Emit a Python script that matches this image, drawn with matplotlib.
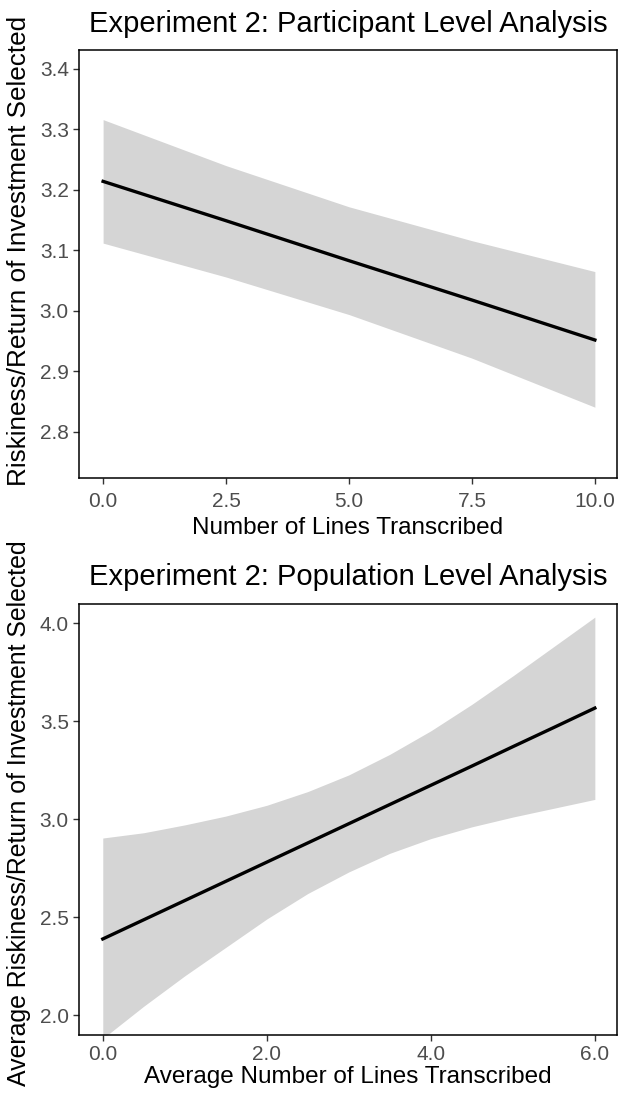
import numpy as np
import matplotlib.pyplot as plt

plt.rcParams['font.family'] = ['Liberation Sans', 'DejaVu Sans']

# participant level (top panel)
p_x = [0.0, 2.5, 5.0, 7.5, 10.0]
p_fit = [3.214, 3.149, 3.083, 3.018, 2.952]
p_upper = [3.316, 3.240, 3.172, 3.116, 3.065]
p_lower = [3.112, 3.056, 2.994, 2.922, 2.841]

# population level (bottom panel)
q_x = [0, 0.5, 1, 1.5, 2, 2.5, 3, 3.5, 4, 4.5, 5, 5.5, 6]
q_fit = [2.388, 2.486, 2.584, 2.682, 2.780, 2.878, 2.976, 3.074,
         3.172, 3.270, 3.369, 3.467, 3.566]
q_upper = [2.903, 2.930, 2.970, 3.015, 3.070, 3.140, 3.225, 3.330,
           3.450, 3.585, 3.730, 3.880, 4.030]
q_lower = [1.880, 2.045, 2.200, 2.345, 2.490, 2.620, 2.730, 2.825,
           2.900, 2.960, 3.010, 3.055, 3.100]

fig = plt.figure(figsize=(6.18, 10.94), dpi=100)
ax1 = fig.add_axes([79/618, 1-478/1094, 538/618, 428/1094])
ax2 = fig.add_axes([79/618, 1-1035/1094, 538/618, 431/1094])

band = '#d5d5d5'


def style(ax):
    for s in ax.spines.values():
        s.set_linewidth(1.1)
        s.set_color('black')
    ax.tick_params(axis='both', length=4.3, width=1.0, color='#333333',
                   labelcolor='#4d4d4d', labelsize=15, pad=3)


ax1.fill_between(p_x, p_lower, p_upper, color=band, lw=0)
ax1.plot(p_x, p_fit, color='black', lw=2.4)
ax1.set_xlim(-0.49, 10.45)
ax1.set_ylim(2.724, 3.431)
ax1.set_xticks([0, 2.5, 5, 7.5, 10])
ax1.set_xticklabels(['0.0', '2.5', '5.0', '7.5', '10.0'])
ax1.set_yticks([2.8, 2.9, 3.0, 3.1, 3.2, 3.3, 3.4])
ax1.set_title('Experiment 2: Participant Level Analysis', fontsize=21, pad=13)
ax1.set_xlabel('Number of Lines Transcribed', fontsize=17.5, labelpad=4)
ax1.set_ylabel('Riskiness/Return of Investment Selected', fontsize=18.8)
style(ax1)
ax1.tick_params(axis='x', pad=6)
ax1.yaxis.set_label_coords(-0.09, 0.53)

ax2.fill_between(q_x, q_lower, q_upper, color=band, lw=0)
ax2.plot(q_x, q_fit, color='black', lw=2.4)
ax2.set_xlim(-0.29, 6.27)
ax2.set_ylim(1.898, 4.097)
ax2.set_xticks([0, 2, 4, 6])
ax2.set_xticklabels(['0.0', '2.0', '4.0', '6.0'])
ax2.set_yticks([2.0, 2.5, 3.0, 3.5, 4.0])
ax2.set_title('Experiment 2: Population Level Analysis', fontsize=21, pad=14)
ax2.set_xlabel('Average Number of Lines Transcribed', fontsize=17.5, labelpad=1)
ax2.set_ylabel('Average Riskiness/Return of Investment Selected', fontsize=17.9)
style(ax2)
ax2.yaxis.set_label_coords(-0.09, 0.515)

fig.savefig('out.png', dpi=100)
